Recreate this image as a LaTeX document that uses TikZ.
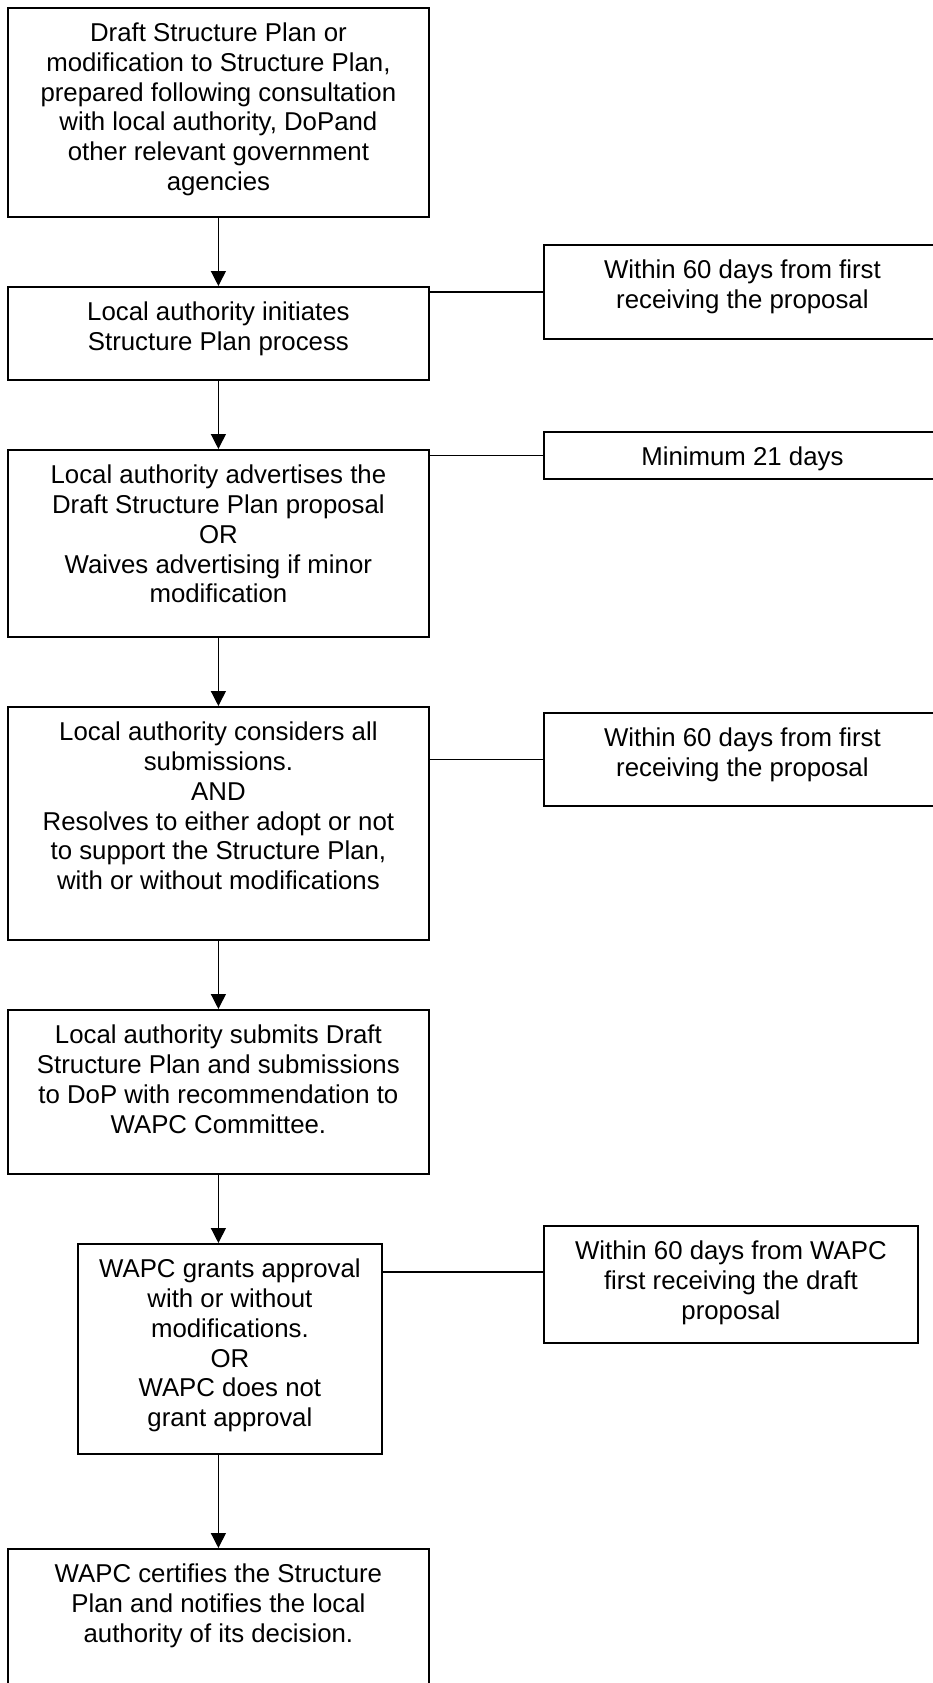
\documentclass[tikz,border=0pt]{standalone}
\usepackage{fontspec}
\setmainfont{Liberation Sans}
\usepackage{tikz}
\usetikzlibrary{arrows.meta,positioning}

% text set from the top of a fixed box: width, height, lines
\newcommand{\boxtext}[3]{\parbox[c][#2pt][t]{#1pt}{\centering\rule{0pt}{34pt}#3}}

\begin{document}
\begin{tikzpicture}[x=1pt, y=-1pt, >={Triangle[length=15pt,width=15pt]},
  box/.style={draw, line width=1.8pt, inner sep=0pt, anchor=north west,
    font=\fontsize{25.8pt}{29.7pt}\selectfont},
  flow/.style={->, line width=1.3pt},
  link/.style={line width=1.8pt}]
  \useasboundingbox (0,0) rectangle (933,1683);

  \node[box] (draft)    at (7,7)    {\boxtext{421}{209}{Draft Structure Plan or\\ modification to Structure Plan,\\ prepared following consultation\\ with local authority, DoPand\\ other relevant government\\ agencies}};
  \node[box] (init)     at (7,286)  {\boxtext{421}{93}{Local authority initiates\\ Structure Plan process}};
  \node[box] (advert)   at (7,449)  {\boxtext{421}{187}{Local authority advertises the\\ Draft Structure Plan proposal\\ OR\\ Waives advertising if minor\\ modification}};
  \node[box] (consider) at (7,706)  {\boxtext{421}{233}{Local authority considers all\\ submissions.\\ AND\\ Resolves to either adopt or not\\ to support the Structure Plan,\\ with or without modifications}};
  \node[box] (submit)   at (7,1009) {\boxtext{421}{164}{Local authority submits Draft\\ Structure Plan and submissions\\ to DoP with recommendation to\\ WAPC Committee.}};
  \node[box] (approve)  at (77,1243) {\boxtext{304}{210}{WAPC grants approval\\ with or without\\ modifications.\\ OR\\ WAPC does not\\ grant approval}};
  \node[box] (certify)  at (7,1548) {\boxtext{421}{152}{WAPC certifies the Structure\\ Plan and notifies the local\\ authority of its decision.}};

  % time limits
  \node[box] (days1) at (543,244)  {\boxtext{397}{94}{Within 60 days from first\\ receiving the proposal}};
  \node[box] (days2) at (543,431)  {\boxtext{397}{47}{Minimum 21 days}};
  \node[box] (days3) at (543,712)  {\boxtext{397}{93}{Within 60 days from first\\ receiving the proposal}};
  \node[box] (days4) at (543,1225) {\boxtext{374}{117}{Within 60 days from WAPC\\ first receiving the draft\\ proposal}};

  \draw[flow] (draft.south) -- (init.north);
  \draw[flow] (init.south) -- (advert.north);
  \draw[flow] (advert.south) -- (consider.north);
  \draw[flow] (consider.south) -- (submit.north);
  \draw[flow] (submit.south) -- (submit.south |- approve.north);
  \draw[flow] (certify.north |- approve.south) -- (certify.north);

  \draw[link] (days1.west) -- (days1.west -| init.east);
  \draw[link] (days2.west) -- (days2.west -| advert.east);
  \draw[link] (days3.west) -- (days3.west -| consider.east);
  \draw[link] ([yshift=-29pt]approve.north east) -- ([yshift=-29pt]approve.north east -| days4.west);
\end{tikzpicture}
\end{document}
